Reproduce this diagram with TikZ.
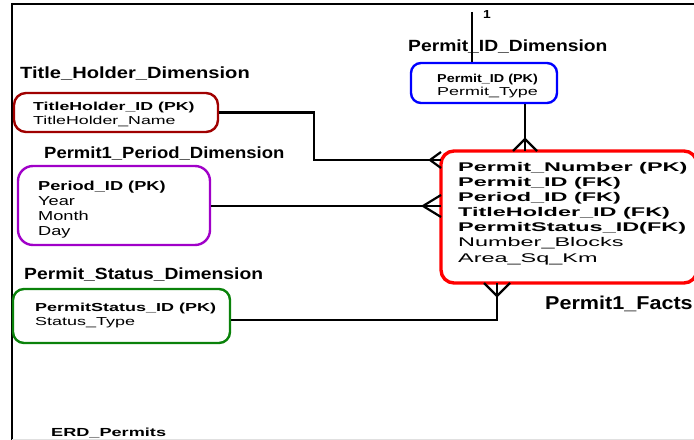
\documentclass[tikz,border=0pt]{standalone}
\usepackage{fontspec}
\setmainfont{Liberation Sans}
% widened sans faces for the different text groups
\newfontfamily\lblf[FakeStretch=1.19]{Liberation Sans}
\newfontfamily\lblwide[FakeStretch=1.24]{Liberation Sans}
\newfontfamily\lblnarrow[FakeStretch=1.14]{Liberation Sans}
\newfontfamily\factlblf[FakeStretch=1.16]{Liberation Sans}
\newfontfamily\pidkeyf[FakeStretch=1.25]{Liberation Sans}
\newfontfamily\pidattf[FakeStretch=1.56]{Liberation Sans}
\newfontfamily\thf[FakeStretch=1.53]{Liberation Sans}
\newfontfamily\perf[FakeStretch=1.40]{Liberation Sans}
\newfontfamily\stf[FakeStretch=1.55]{Liberation Sans}
\newfontfamily\factf[FakeStretch=1.86]{Liberation Sans}
\newfontfamily\erdf[FakeStretch=1.55]{Liberation Sans}
\definecolor{thred}{RGB}{160,0,0}
\definecolor{perviolet}{RGB}{160,0,200}
\definecolor{stgreen}{RGB}{10,130,10}
\definecolor{factred}{RGB}{255,0,0}
\definecolor{pidblue}{RGB}{0,0,255}
\begin{document}
\begin{tikzpicture}[x=1bp,y=-1bp,
  entity/.style={draw, line width=2.4bp, inner sep=0pt},
  conn/.style={draw, line width=2.2bp, line cap=butt, line join=miter},
  crow/.style={draw, line width=2.2bp, line join=miter},
  attrs/.style={anchor=north west, align=left, inner sep=0pt},
  title/.style={anchor=base west, inner sep=0pt, font=\lblf\bfseries\fontsize{16.2bp}{19bp}\selectfont}]
\useasboundingbox (0,0) rectangle (694,440);

% sheet frame
\draw[line width=2.5bp] (11,4) -- (696,4);
\draw[line width=2.2bp] (12,3) -- (12,441);
\draw[line width=1bp, black!12] (12,439.5) -- (696,439.5);

% entities
\node[entity, draw=pidblue, rounded corners=10bp, minimum width=146bp, minimum height=40bp] (pid) at (484,83) {};
\node[entity, draw=thred, rounded corners=12bp, minimum width=204bp, minimum height=39bp] (th) at (116,112.5) {};
\node[entity, draw=perviolet, rounded corners=15bp, minimum width=192bp, minimum height=79bp] (per) at (114,205.5) {};
\node[entity, draw=stgreen, rounded corners=11bp, minimum width=217bp, minimum height=54bp] (st) at (121.5,316) {};
\node[entity, draw=factred, line width=3.4bp, rounded corners=13bp, minimum width=256bp, minimum height=132bp] (facts) at (569,217) {};

% attribute lists
\node[attrs, font=\fontsize{11.5bp}{13.2bp}\selectfont] (pidtxt) at (437,73.5)
  {{\pidkeyf\bfseries Permit\_ID (PK)}\\{\pidattf Permit\_Type}};
\node[attrs, font=\thf\fontsize{11.6bp}{14.3bp}\selectfont] (thtxt) at (33,101.7)
  {\textbf{TitleHolder\_ID (PK)}\\TitleHolder\_Name};
\node[attrs, font=\perf\fontsize{13bp}{15bp}\selectfont] (pertxt) at (38,180.7)
  {\textbf{Period\_ID (PK)}\\Year\\Month\\Day};
\node[attrs, font=\stf\fontsize{11.6bp}{14bp}\selectfont] (sttxt) at (35,303.3)
  {\textbf{PermitStatus\_ID (PK)}\\Status\_Type};
\node[attrs, font=\factf\fontsize{12.6bp}{15.17bp}\selectfont] (factstxt) at (458,161.7)
  {\textbf{Permit\_Number (PK)}\\\textbf{Permit\_ID (FK)}\\\textbf{Period\_ID (FK)}\\
   \textbf{TitleHolder\_ID (FK)}\\\textbf{PermitStatus\_ID(FK)}\\Number\_Blocks\\Area\_Sq\_Km};

% entity titles
\node[title] (pidlbl) at (408,52) {Permit\_ID\_Dimension};
\node[title, font=\lblwide\bfseries\fontsize{16.2bp}{19bp}\selectfont] (thlbl) at (20,78.5) {Title\_Holder\_Dimension};
\node[title, font=\lblnarrow\bfseries\fontsize{16.2bp}{19bp}\selectfont] (perlbl) at (44,158.5) {Permit1\_Period\_Dimension};
\node[title] (stlbl) at (24,280) {Permit\_Status\_Dimension};
\node[title, font=\factlblf\bfseries\fontsize{18.6bp}{22bp}\selectfont] (factlbl) at (545,310) {Permit1\_Facts};
\node[anchor=base west, inner sep=0pt, font=\erdf\bfseries\fontsize{11.7bp}{14bp}\selectfont] (erd) at (51,436.5) {ERD\_Permits};
\node[anchor=base west, inner sep=0pt, font=\lblf\bfseries\fontsize{11.6bp}{14bp}\selectfont] (one) at (483,18.3) {1};

% relationship ends on the fact table
\coordinate (ptop) at (472,12);
\coordinate (fTop) at (525,151);
\coordinate (fL1) at (441,160);
\coordinate (fL2) at (441,206);
\coordinate (fB) at (497,283);

% connectors
\draw[conn] (ptop) -- (ptop |- pid.north);
\draw[conn] (fTop |- pid.south) -- (fTop);
\draw[conn] (th.east) -- ++(95,0) |- (fL1);
\draw[conn] (per.east |- fL2) -- (fL2);
\draw[conn] ([yshift=-4bp]st.east) -| (fB);

% crow's feet (many side)
\draw[crow] (fTop) ++(-12,0) -- ++(12,-12) -- ++(12,12);
\draw[crow] (fL1) ++(0,-8) -- ++(-11,8) -- ++(11,8);
\draw[crow] (fL2) ++(0,-11) -- ++(-18,11) -- ++(18,11);
\draw[crow] (fB) ++(-13,0) -- ++(13,13) -- ++(13,-13);
\end{tikzpicture}
\end{document}
